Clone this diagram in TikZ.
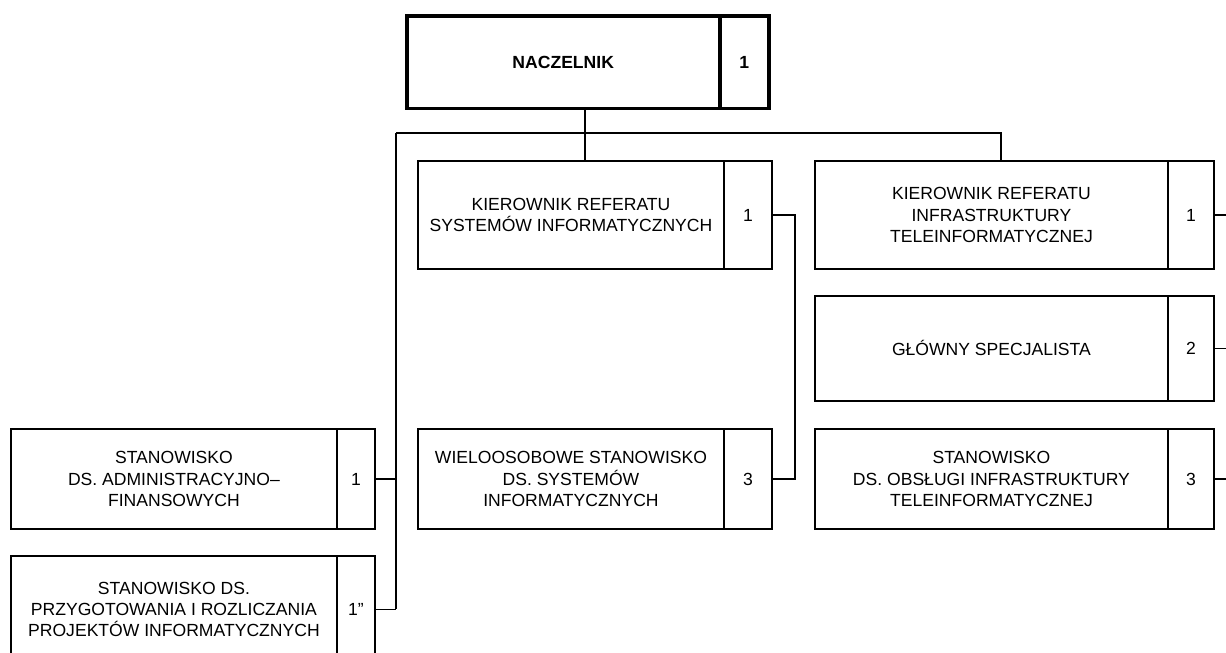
\documentclass[tikz,border=0pt]{standalone}
\usepackage{fontspec}
\setmainfont{Liberation Sans}
\usetikzlibrary{calc}
\definecolor{ink}{HTML}{000000}
\tikzset{
  unit/.style={draw=ink, line width=1.1pt, align=center, inner sep=1pt, anchor=north west, text=ink},
  head/.style={unit, line width=2pt, font=\bfseries},
  link/.style={draw=ink, line width=1pt}
}

\begin{document}
\begin{tikzpicture}[x=0.02cm, y=-0.02cm, font=\fontsize{10}{12}\selectfont]
\useasboundingbox (0,0) rectangle (1226,652);
\clip (0,0) rectangle (1226,652);
\fill[white] (0,0) rectangle (1226,652);

% head of the unit
\node[head, minimum width=6.26cm, minimum height=1.86cm] (nacz) at (405,14) {NACZELNIK};
\node[head, minimum width=0.98cm, minimum height=1.86cm] (naczn) at (718,14) {1};

% middle column
\node[unit, minimum width=6.12cm, minimum height=2.16cm] (ksi) at (417,160) {KIEROWNIK REFERATU\\SYSTEMÓW INFORMATYCZNYCH};
\node[unit, minimum width=0.96cm, minimum height=2.16cm] (ksin) at (723,160) {1};
\node[unit, minimum width=6.12cm, minimum height=2cm] (wsi) at (417,428) {WIELOOSOBOWE STANOWISKO\\DS. SYSTEMÓW\\INFORMATYCZNYCH};
\node[unit, minimum width=0.96cm, minimum height=2cm] (wsin) at (723,428) {3};

% right column
\node[unit, minimum width=7.06cm, minimum height=2.16cm] (kit) at (814,160) {KIEROWNIK REFERATU\\INFRASTRUKTURY\\TELEINFORMATYCZNEJ};
\node[unit, minimum width=0.92cm, minimum height=2.16cm] (kitn) at (1167,160) {1};
\node[unit, minimum width=7.06cm, minimum height=2.1cm] (gs) at (814,295) {GŁÓWNY SPECJALISTA};
\node[unit, minimum width=0.92cm, minimum height=2.1cm] (gsn) at (1167,295) {2};
\node[unit, minimum width=7.06cm, minimum height=2cm] (soit) at (814,428) {STANOWISKO\\DS. OBSŁUGI INFRASTRUKTURY\\TELEINFORMATYCZNEJ};
\node[unit, minimum width=0.92cm, minimum height=2cm] (soitn) at (1167,428) {3};

% left column
\node[unit, minimum width=6.52cm, minimum height=2cm] (saf) at (10,428) {STANOWISKO\\DS. ADMINISTRACYJNO–\\FINANSOWYCH};
\node[unit, minimum width=0.76cm, minimum height=2cm] (safn) at (336,428) {1};
\node[unit, minimum width=6.52cm, minimum height=2.14cm] (spr) at (10,555) {STANOWISKO DS.\\PRZYGOTOWANIA I ROZLICZANIA\\PROJEKTÓW INFORMATYCZNYCH};
\node[unit, minimum width=0.76cm, minimum height=2.14cm] (sprn) at (336,555) {1”};

\coordinate (hub) at (585,133);
\coordinate (lbus) at (396,133);
\coordinate (rbus) at (1001,133);
\coordinate (redge) at (1226,0);

\draw[link] (nacz.south -| hub) -- (hub) -- (hub |- ksi.north);
\draw[link] (lbus) -- (rbus) -- (rbus |- kit.north);
\draw[link] (lbus) -- (lbus |- sprn.east);
\foreach \n in {safn,sprn}{\draw[link] (\n.east) -- (\n.east -| lbus);}
\draw[link] (ksin.east) -- ++(22,0) |- (wsin.east);
\foreach \n in {kitn,gsn,soitn}{\draw[link] (\n.east) -- (\n.east -| redge);}
\end{tikzpicture}
\end{document}
